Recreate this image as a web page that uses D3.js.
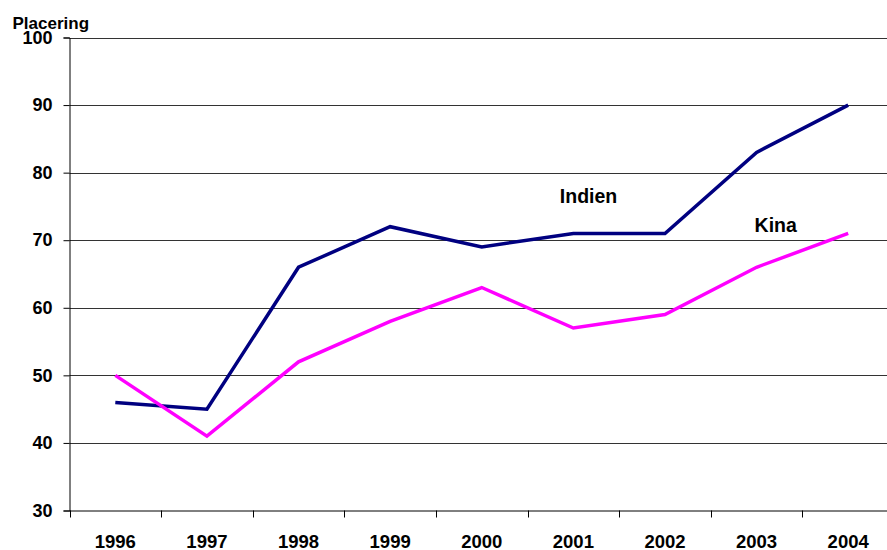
<!DOCTYPE html>
<html>
<head>
<meta charset="utf-8">
<script src="https://cdn.jsdelivr.net/npm/d3@7"></script>
<style>
  body { margin: 0; background: #fff; overflow: hidden; }
  text { font-family: "Liberation Sans", Arial, sans-serif; font-weight: bold; }
</style>
</head>
<body>
<div id="chart"></div>
<script>
// years on the x axis
const years = ["1996","1997","1998","1999","2000","2001","2002","2003","2004"];
// placering per year
const indien = [46, 45, 66, 72, 69, 71, 71, 83, 90];
const kina = [50, 41, 52, 58, 63, 57, 59, 66, 71];
const yTicks = [30, 40, 50, 60, 70, 80, 90, 100];
const yLabel = "Placering";
// series labels, anchored in data terms (year, value)
const seriesLabels = [
  {name: "Indien", year: "2001", value: 75.5, dx: -13.5},
  {name: "Kina", year: "2003", value: 71.2, dx: -2}
];

const W = 887, H = 550;
const plot = {left: 69.5, right: 894, top: 37.5, bottom: 510.5};

const svg = d3.select("#chart").append("svg")
  .attr("width", W).attr("height", H);

const x = d3.scaleBand().domain(years).range([plot.left, plot.right]);
const y = d3.scaleLinear().domain([30, 100]).range([plot.bottom, plot.top]);

// gridlines
svg.append("g")
  .selectAll("line")
  .data(yTicks.filter(d => d > 30))
  .enter().append("line")
  .attr("x1", plot.left).attr("x2", W)
  .attr("y1", d => Math.round(y(d)) + 0.5)
  .attr("y2", d => Math.round(y(d)) + 0.5)
  .attr("stroke", "#333")
  .attr("stroke-width", 1);

// y axis
const yAxis = svg.append("g")
  .attr("transform", `translate(${plot.left},0)`)
  .call(d3.axisLeft(y).tickValues(yTicks).tickSize(6).tickPadding(11).tickFormat(d3.format("d")));
yAxis.select(".domain").attr("stroke", "#000");
yAxis.selectAll(".tick line").attr("stroke", "#000");
yAxis.selectAll(".tick text")
  .attr("fill", "#000")
  .style("font-size", "18px")
  .style("font-family", "'Liberation Sans', Arial, sans-serif")
  .style("font-weight", "bold");

// x axis
const xAxis = svg.append("g")
  .attr("transform", `translate(0,${plot.bottom})`)
  .call(d3.axisBottom(x).tickSize(0).tickPadding(24));
xAxis.select(".domain").attr("stroke", "#000").attr("d", `M${plot.left},0.5H${W}`);
xAxis.selectAll(".tick text")
  .attr("fill", "#000")
  .style("font-size", "18.5px")
  .style("font-family", "'Liberation Sans', Arial, sans-serif")
  .style("font-weight", "bold");
// tick marks between categories
svg.append("g")
  .selectAll("line")
  .data(years)
  .enter().append("line")
  .attr("x1", d => Math.round(x(d)) + 0.5)
  .attr("x2", d => Math.round(x(d)) + 0.5)
  .attr("y1", plot.bottom).attr("y2", plot.bottom + 7)
  .attr("stroke", "#000");

// y label
svg.append("text")
  .attr("x", 12.5).attr("y", 29)
  .style("font-size", "17px")
  .text(yLabel);

const line = d3.line()
  .x((d, i) => x(years[i]) + x.bandwidth() / 2)
  .y(d => y(d));

svg.append("path")
  .datum(indien)
  .attr("d", line)
  .attr("fill", "none")
  .attr("stroke", "#000080")
  .attr("stroke-width", 3.5);

svg.append("path")
  .datum(kina)
  .attr("d", line)
  .attr("fill", "none")
  .attr("stroke", "#ff00ff")
  .attr("stroke-width", 3.5);

svg.selectAll(".slabel")
  .data(seriesLabels)
  .enter().append("text")
  .attr("class", "slabel")
  .attr("x", d => x(d.year) + x.bandwidth() / 2 + d.dx)
  .attr("y", d => y(d.value))
  .style("font-size", "19.5px")
  .text(d => d.name);
</script>
</body>
</html>
